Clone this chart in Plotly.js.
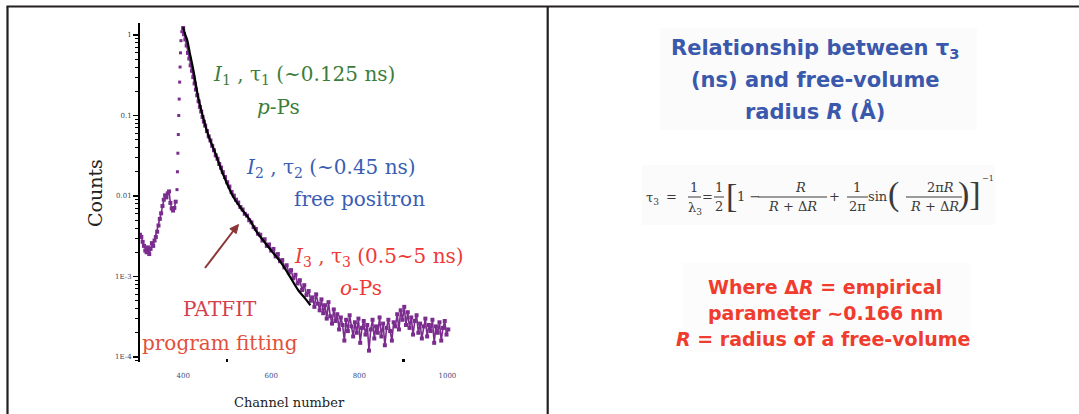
<!DOCTYPE html>
<html>
<head>
<meta charset="utf-8">
<script src="https://cdn.plot.ly/plotly-3.0.1.min.js"></script>
<style>html,body{margin:0;padding:0;background:#fff;}#chart{width:1079px;height:414px;}</style>
</head>
<body>
<div id="chart"></div>
<script>
// ---- data ----
const dataChannel = [302,305,308,311,314,317,320,323,326,329,332,335,338,341,344,347,350,353,356,359,362,365,368,371,374,377,380,383,
  386,387,388,389,390,391,392,393,394,395,397,400,
  402,405,408,411,414,417,420,423,426,429,432,435,438,441,444,447,450,454,458,462,466,470,474,478,482,486,490,495,500,505,510,515,520,525,530,535,540,545,550,555,560,565,570,575,580,585,590,595,600,605,610,615,620,625,630,635,640,645,650,655,660,665,670,675,680,685,690,
  694,698,702,706,710,714,718,722,726,730,734,738,742,746,750,754,758,762,766,770,774,778,782,786,790,794,798,802,806,810,814,818,822,826,830,834,838,842,846,850,854,858,862,866,870,874,878,882,886,890,894,898,902,906,910,914,918,922,926,930,934,938,942,946,950,954,958,962,966,970,974,978,982,986,990,994,998,1002];
const dataCounts = [0.0033,0.0031,0.0027,0.0024,0.0021,0.0020,0.0023,0.0019,0.0022,0.0026,0.0024,0.0028,0.0031,0.0036,0.0043,0.0052,0.0061,0.0075,0.0090,0.0102,0.0096,0.0108,0.0114,0.0082,0.0070,0.0066,0.0071,0.0085,
  0.012,0.02,0.034,0.058,0.1,0.16,0.26,0.4,0.6,0.85,1.1,1.22,
  1.02,0.88,0.74,0.6,0.51,0.42,0.36,0.3,0.25,0.21,0.178,0.15,0.128,0.112,0.096,0.084,0.075,0.064,0.055,0.049,0.042,0.037,0.032,0.029,0.025,0.0225,0.0198,0.0172,0.0148,0.0131,0.0112,0.0101,0.0090,0.0083,0.0073,0.0068,0.0060,0.0057,0.0050,0.0047,0.0041,0.0039,0.0034,0.0033,0.0028,0.0029,0.0024,0.0025,0.0021,0.0022,0.00178,0.0019,0.00155,0.0016,0.0013,0.00138,0.00112,0.0012,0.00095,0.00105,0.00082,0.0009,0.00068,0.00078,0.00059,0.00066,0.0005,
  0.00055,0.00042,0.00060,0.00046,0.00038,0.00052,0.00035,0.00044,0.00030,0.00048,0.00032,0.00026,0.00039,0.00028,0.00034,0.00022,0.00031,0.00025,0.00016,0.00029,0.00021,0.00033,0.00024,0.00018,0.00027,0.00020,0.00030,0.00015,0.00023,0.00028,0.00019,0.00025,0.00012,0.00022,0.00029,0.00017,0.00024,0.00020,0.00031,0.00018,0.00026,0.00014,0.00023,0.00029,0.00021,0.00016,0.00027,0.00024,0.00034,0.00022,0.00038,0.00029,0.00042,0.00025,0.00036,0.00023,0.00031,0.00019,0.00028,0.00033,0.00020,0.00026,0.00017,0.00024,0.00030,0.00018,0.00025,0.00021,0.00029,0.00015,0.00024,0.00020,0.00027,0.00016,0.00023,0.00028,0.00019,0.00022];
const fitChannel = [400,405,409,415,423,434,445,458,473,490,514,530,552,568,582,600,623,640,661,675,689];
const fitCounts  = [1.25,1.0,0.87,0.6,0.37,0.17,0.096,0.055,0.034,0.019,0.0097,0.0072,0.005,0.0035,0.0028,0.0021,0.00147,0.00105,0.00068,0.00055,0.00044];
const xTickVals = [400,600,800,1000];
const xTickText = ['400','600','800','1000'];
const xMinorTicks = [500,900];
const yTickVals = [1,0.1,0.01,0.001,0.0001];
const yTickText = ['1','0.1','0.01','1E-3','1E-4'];
const riseStart = 386, riseEnd = 400;   // channels of the steep rise drawn as separate dots

// ---- layout helpers (pixel -> paper) ----
const W = 1079, H = 414;
const P = x => x / W, Q = y => 1 - y / H;
function ann(text, x, y, font, extra) {
  return Object.assign({text: text, xref:'paper', yref:'paper', x:P(x), y:Q(y),
    xanchor:'center', yanchor:'middle', showarrow:false, font: font}, extra || {});
}
const serif = 'DejaVu Serif';
const green = {family:serif, size:20, color:'#3c7d3a'};
const blue  = {family:serif, size:20, color:'#3a5db4'};
const red   = {family:serif, size:20, color:'#ee3a36'};
const eq    = {family:serif, size:13, color:'#3a3a3a'};
const eqBig = {family:'Liberation Serif', size:34, color:'#3a3a3a'};
const titleFont = {family:'DejaVu Sans', size:21, color:'#3a58ac', weight:700};
const redFont = {family:'DejaVu Sans', size:19, color:'#f03c2e', weight:700};

const annotations = [
  // left panel labels
  ann('<i>I</i><sub>1</sub> , τ<sub>1</sub> (~0.125 ns)', 211, 75, green, {xanchor:'left'}),
  ann('<i>p</i>-Ps', 255, 107, green, {xanchor:'left'}),
  ann('<i>I</i><sub>2</sub> , τ<sub>2</sub> (~0.45 ns)', 244, 168, blue, {xanchor:'left'}),
  ann('free positron', 292, 199, blue, {xanchor:'left'}),
  ann('<i>I</i><sub>3</sub> , τ<sub>3</sub> (0.5~5 ns)', 292, 257, red, {xanchor:'left'}),
  ann('<i>o</i>-Ps', 338, 288, red, {xanchor:'left'}),
  ann('PATFIT', 220, 309, {family:serif, size:20, color:'#d4404c'}),
  ann('program fitting', 220, 343, {family:serif, size:20, color:'#e2503c'}),
  ann('Counts', 95, 193, {family:serif, size:19, color:'#222'}, {textangle:-90}),
  ann('Channel number', 289, 402, {family:serif, size:13, color:'#222'}),
  // right panel title
  ann('Relationship between τ<sub>3</sub>', 815, 49, titleFont),
  ann('(ns) and free-volume', 815, 80, titleFont),
  ann('radius <i>R</i> (Å)', 815, 111, titleFont),
  // equation
  ann('τ<sub>3</sub>', 652, 198, eq),
  ann('=', 671, 196, eq),
  ann('1', 694, 187, eq),
  ann('λ<sub>3</sub>', 695, 208, eq),
  ann('=', 707, 196, eq),
  ann('1', 719, 187, eq),
  ann('2', 719, 206, eq),
  ann('[', 731, 195, eqBig),
  ann('1\u00a0\u2212', 748, 196, eq),
  ann('<i>R</i>', 800, 187, eq),
  ann('<i>R</i>\u00a0+\u00a0Δ<i>R</i>', 792, 206, eq),
  ann('+', 834, 196, eq),
  ann('1', 857, 187, eq),
  ann('2π', 857, 206, eq),
  ann('sin', 878, 196, eq),
  ann('(', 893, 194, eqBig),
  ann('2π<i>R</i>', 940, 187, eq),
  ann('<i>R</i>\u00a0+\u00a0Δ<i>R</i>', 934, 206, eq),
  ann(')]', 969, 194, eqBig),
  ann('\u22121', 988, 179, {family:serif, size:8, color:'#3a3a3a'}),
  // red notes
  ann('Where Δ<i>R</i> = empirical', 825, 287, redFont),
  ann('parameter ~0.166 nm', 825, 313, redFont),
  ann('<i>R</i> = radius of a free-volume', 823, 339, redFont)
];

const lineCol = '#231f20';
function hline(x0, x1, y, w, c) { return {type:'line', xref:'paper', yref:'paper', x0:P(x0), x1:P(x1), y0:Q(y), y1:Q(y), line:{color:c, width:w}}; }
function vline(x, y0, y1, w, c) { return {type:'line', xref:'paper', yref:'paper', x0:P(x), x1:P(x), y0:Q(y0), y1:Q(y1), line:{color:c, width:w}}; }
function box(x0, y0, x1, y1, c) { return {type:'rect', xref:'paper', yref:'paper', x0:P(x0), x1:P(x1), y0:Q(y1), y1:Q(y0), line:{width:0}, fillcolor:c, layer:'below'}; }
function seg(x0, y0, x1, y1, w, c) { return {type:'line', xref:'paper', yref:'paper', x0:P(x0), x1:P(x1), y0:Q(y0), y1:Q(y1), line:{color:c, width:w}}; }
function tri(pts, c) {
  const d = pts.map((p, i) => (i ? 'L' : 'M') + P(p[0]) + ',' + Q(p[1])).join(' ') + ' Z';
  return {type:'path', xref:'paper', yref:'paper', path:d, fillcolor:c, line:{color:c, width:1}};
}
const arrowCol = '#8b3535';

const shapes = [
  box(660, 28, 977, 130, '#fbfbfb'),
  box(642, 165, 995, 225, '#fbfbfb'),
  box(683, 263, 970, 352, '#fcfcfc'),
  vline(7.5, 6.5, 414, 2.2, lineCol),
  hline(6.5, 1079, 6.5, 2.2, lineCol),
  vline(547.7, 6.5, 414, 2.2, lineCol),
  // PATFIT arrow
  seg(205, 268, 234, 230, 2, arrowCol),
  tri([[238.5, 224.5], [236.2, 233.6], [229.8, 228.7]], arrowCol),
  // equation fraction bars
  hline(688, 701, 197, 1, '#3a3a3a'),
  hline(714, 724, 197, 1, '#3a3a3a'),
  hline(758, 827, 197, 1, '#3a3a3a'),
  hline(847, 868, 197, 1, '#3a3a3a'),
  hline(906, 962, 197, 1, '#3a3a3a')
];

function pick(cond) {
  const xs = [], ys = [];
  dataChannel.forEach((c, i) => { if (cond(c)) { xs.push(c); ys.push(dataCounts[i]); } });
  return {x: xs, y: ys};
}
const purple = '#7b2d8e';
const pre = pick(c => c < riseStart), rise = pick(c => c >= riseStart && c <= riseEnd), post = pick(c => c >= riseEnd);
const traces = [
  {x: pre.x, y: pre.y, type:'scatter', mode:'lines+markers', line:{color:purple, width:1.6},
   marker:{symbol:'square', size:4, color:purple}, hoverinfo:'skip'},
  {x: rise.x, y: rise.y, type:'scatter', mode:'markers',
   marker:{symbol:'square', size:3, color:purple}, hoverinfo:'skip'},
  {x: post.x, y: post.y, type:'scatter', mode:'lines+markers', line:{color:purple, width:1.6},
   marker:{symbol:'square', size:4, color:purple}, hoverinfo:'skip'},
  {x: fitChannel, y: fitCounts, type:'scatter', mode:'lines', line:{color:'#000', width:2.2, shape:'spline'}, hoverinfo:'skip'}
];

const layout = {
  width: W, height: H, margin:{l:0, r:0, t:0, b:0},
  paper_bgcolor:'#fff', plot_bgcolor:'rgba(0,0,0,0)', showlegend:false,
  xaxis: {domain:[P(140), P(454)], range:[302, 1015], showgrid:false, zeroline:false, showline:false,
    tickmode:'array', tickvals:xTickVals, ticktext:xTickText, ticks:'', ticklabelstandoff:8,
    minor:{tickmode:'array', tickvals:xMinorTicks, ticks:'inside', ticklen:3, tickwidth:2.5, tickcolor:'#000', showgrid:false},
    tickfont:{family:serif, size:7, color:'#3d4d80'}, automargin:false, fixedrange:true},
  yaxis: {domain:[Q(362), Q(23)], type:'log', range:[-4.062, 0.149], showgrid:false, zeroline:false,
    showline:true, linewidth:2, linecolor:'#000', ticks:'outside', ticklen:5, tickwidth:1.5, tickcolor:'#000',
    tickmode:'array', tickvals:yTickVals, ticktext:yTickText, tickfont:{family:serif, size:7, color:'#445'},
    minor:{ticks:'outside', ticklen:3, tickwidth:1, tickcolor:'#000', dtick:'D1', showgrid:false},
    automargin:false, fixedrange:true},
  annotations: annotations,
  shapes: shapes
};

Plotly.newPlot('chart', traces, layout, {staticPlot:true, displayModeBar:false});
</script>
</body>
</html>
